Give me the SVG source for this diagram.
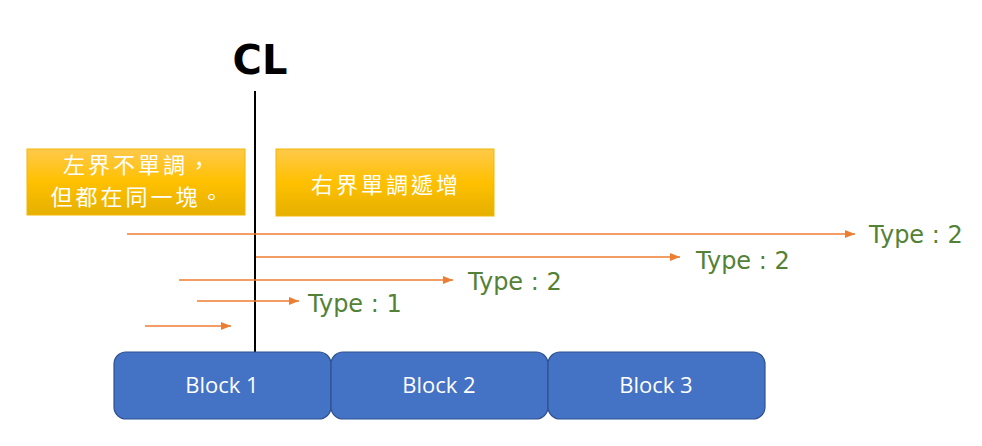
<svg xmlns="http://www.w3.org/2000/svg" width="982" height="446" viewBox="0 0 982 446">
<style>
.lbl{font-family:"DejaVu Sans","Liberation Sans",sans-serif;font-size:24px;fill:#538135;font-weight:500}
.blk{fill:#4472C4;stroke:#2F528F;stroke-width:1.2}
.bt{font-family:"Open Sans","Liberation Sans",sans-serif;font-size:22px;fill:#fff;text-anchor:middle}
.cj{font-family:"Noto Sans CJK TC","Noto Sans CJK SC",sans-serif;font-size:22px;fill:#fff;text-anchor:middle;letter-spacing:3px}
.ar{stroke:#ED7D31;stroke-width:1.6;fill:none}
.yb{fill:url(#yg);stroke:#F2B705;stroke-width:1}
</style>
<defs>
<linearGradient id="yg" x1="0" y1="0" x2="0" y2="1">
<stop offset="0" stop-color="#FFC94A"/>
<stop offset="0.5" stop-color="#FFC000"/>
<stop offset="1" stop-color="#E5B000"/>
</linearGradient>
<marker id="ah" markerWidth="10" markerHeight="8" refX="10" refY="4" orient="auto" markerUnits="userSpaceOnUse">
<path d="M0,0 L10,4 L0,8 Z" fill="#ED7D31"/>
</marker>
</defs>
<rect width="982" height="446" fill="#fff"/>
<g id="cl">
<text x="260" y="74" font-family="DejaVu Sans,sans-serif" font-size="40" font-weight="bold" text-anchor="middle" fill="#000">CL</text>
<line x1="255" y1="91" x2="255" y2="352" stroke="#000" stroke-width="2"/>
</g>
<g id="note-left">
<rect class="yb" x="27" y="149" width="218" height="66"/>
<text class="cj" x="138" y="173">左界不單調，</text>
<text class="cj" x="138" y="205">但都在同一塊。</text>
</g>
<g id="note-right">
<rect class="yb" x="276" y="149" width="218" height="67"/>
<text class="cj" x="386" y="193">右界單調遞增</text>
</g>
<g id="connectors">
<line class="ar" x1="127" y1="234" x2="855" y2="234" marker-end="url(#ah)"/>
<line class="ar" x1="256" y1="257" x2="680" y2="257" marker-end="url(#ah)"/>
<line class="ar" x1="179" y1="280" x2="453" y2="280" marker-end="url(#ah)"/>
<line class="ar" x1="197" y1="301" x2="299" y2="301" marker-end="url(#ah)"/>
<line class="ar" x1="145" y1="326" x2="231" y2="326" marker-end="url(#ah)"/>
</g>
<g id="labels">
<text class="lbl" x="869" y="243">Type : 2</text>
<text class="lbl" x="696" y="269">Type : 2</text>
<text class="lbl" x="468" y="290">Type : 2</text>
<text class="lbl" x="308" y="312">Type : 1</text>
</g>
<g id="block1">
<rect class="blk" x="114" y="352" width="217" height="67" rx="12"/>
<text class="bt" x="222" y="393">Block 1</text>
</g>
<g id="block2">
<rect class="blk" x="331" y="352" width="217" height="67" rx="12"/>
<text class="bt" x="439" y="393">Block 2</text>
</g>
<g id="block3">
<rect class="blk" x="548" y="352" width="217" height="67" rx="12"/>
<text class="bt" x="656" y="393">Block 3</text>
</g>
</svg>
